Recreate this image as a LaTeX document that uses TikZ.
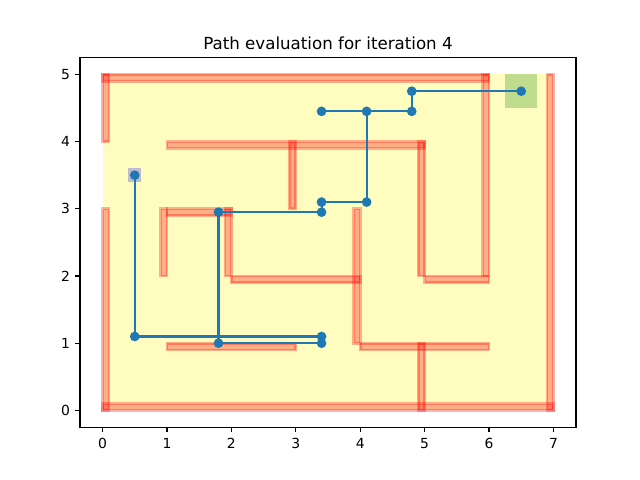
\documentclass[tikz,border=0pt]{standalone}
\usepackage{fontspec}
\setmainfont{DejaVu Sans}
\definecolor{mplblue}{HTML}{1F77B4}
\begin{document}
\begin{tikzpicture}[x=0.644156in, y=0.672in,
  wall/.style={fill=red, draw=red, fill opacity=0.3, draw opacity=0.3, line width=2bp},
  tickmark/.style={line width=0.8bp},
  ticklabel/.style={inner sep=0pt, font=\fontsize{10bp}{12bp}\selectfont},
  pathline/.style={mplblue, line width=1.5bp},
  dot/.style={circle, fill=mplblue, inner sep=0pt, minimum size=7bp}]
\useasboundingbox (-1.59194,-1.035714) rectangle (8.34355,6.107143);

% floor of the maze
\fill[yellow!25] (0,0) rectangle (7,5);

% walls
\filldraw[wall] (0,4.9) rectangle (6,5);      % top
\filldraw[wall] (0,4) rectangle (0.1,5);      % left, upper part
\filldraw[wall] (0,0) rectangle (0.1,3);      % left, lower part
\filldraw[wall] (0,0) rectangle (7,0.1);      % bottom
\filldraw[wall] (6.9,0) rectangle (7,5);      % right
\filldraw[wall] (5.9,2) rectangle (6,5);
\filldraw[wall] (1,3.9) rectangle (5,4);
\filldraw[wall] (2.9,3) rectangle (3,4);
\filldraw[wall] (4.9,2) rectangle (5,4);
\filldraw[wall] (5,1.9) rectangle (6,2);
\filldraw[wall] (1,2.9) rectangle (2,3);
\filldraw[wall] (0.9,2) rectangle (1,3);
\filldraw[wall] (1.9,2) rectangle (2,3);
\filldraw[wall] (2,1.9) rectangle (4,2);
\filldraw[wall] (3.9,1) rectangle (4,3);
\filldraw[wall] (4,0.9) rectangle (6,1);
\filldraw[wall] (4.9,0) rectangle (5,1);
\filldraw[wall] (1,0.9) rectangle (3,1);

% start and goal cells
\fill[blue, opacity=0.25] (0.4,3.4) rectangle (0.6,3.6);
\fill[green!50!black, opacity=0.25] (6.25,4.5) rectangle (6.75,5);

% path waypoints
\coordinate (p1) at (0.5,3.5);
\coordinate (p2) at (0.5,1.1);
\coordinate (p3) at (3.4,1.1);
\coordinate (p4) at (3.4,1.0);
\coordinate (p5) at (1.8,1.0);
\coordinate (p6) at (1.8,2.95);
\coordinate (p7) at (3.4,2.95);
\coordinate (p8) at (3.4,3.1);
\coordinate (p9) at (4.1,3.1);
\coordinate (p10) at (4.1,4.45);
\coordinate (p11) at (3.4,4.45);
\coordinate (p12) at (4.8,4.45);
\coordinate (p13) at (4.8,4.75);
\coordinate (p14) at (6.5,4.75);

\draw[pathline] (p1) -- (p2) -- (p3) -- (p4) -- (p5) -- (p6) -- (p7)
  -- (p8) -- (p9) -- (p10) -- (p11) -- (p12) -- (p13) -- (p14);
\foreach \i in {1,...,14} \node[dot] (d\i) at (p\i) {};

% axes frame
\draw[line width=0.8bp] (-0.35,-0.25) rectangle (7.35,5.25);

% x ticks
\foreach \v in {0,...,7} {
  \draw[tickmark] (\v,-0.25) -- ++(0,-3.5bp);
  \node[ticklabel, anchor=north] (xl\v) at ([yshift=-8bp]\v,-0.25) {\v};
}
% y ticks
\foreach \v in {0,...,5} {
  \draw[tickmark] (-0.35,\v) -- ++(-3.5bp,0);
  \node[ticklabel, anchor=east] (yl\v) at ([xshift=-7bp]-0.35,\v) {\v};
}

% title
\node[inner sep=0pt, anchor=base, font=\fontsize{12bp}{14bp}\selectfont] (title)
  at ([yshift=6bp]3.5,5.25) {Path evaluation for iteration 4};
\end{tikzpicture}
\end{document}
